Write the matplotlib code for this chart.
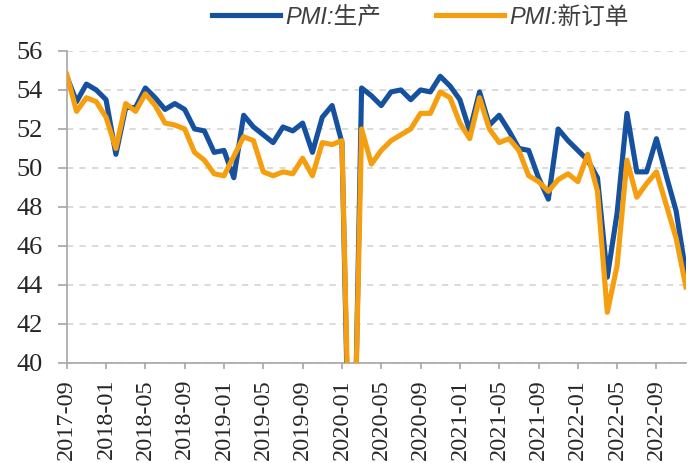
import matplotlib
matplotlib.use("Agg")
import matplotlib.pyplot as plt
import numpy as np

months = ["2017-09", "2017-10", "2017-11", "2017-12",
          "2018-01", "2018-02", "2018-03", "2018-04", "2018-05", "2018-06",
          "2018-07", "2018-08", "2018-09", "2018-10", "2018-11", "2018-12",
          "2019-01", "2019-02", "2019-03", "2019-04", "2019-05", "2019-06",
          "2019-07", "2019-08", "2019-09", "2019-10", "2019-11", "2019-12",
          "2020-01", "2020-02", "2020-03", "2020-04", "2020-05", "2020-06",
          "2020-07", "2020-08", "2020-09", "2020-10", "2020-11", "2020-12",
          "2021-01", "2021-02", "2021-03", "2021-04", "2021-05", "2021-06",
          "2021-07", "2021-08", "2021-09", "2021-10", "2021-11", "2021-12",
          "2022-01", "2022-02", "2022-03", "2022-04", "2022-05", "2022-06",
          "2022-07", "2022-08", "2022-09", "2022-10", "2022-11", "2022-12"]

production = [54.7, 53.4, 54.3, 54.0,
              53.5, 50.7, 53.1, 53.1, 54.1, 53.6, 53.0, 53.3, 53.0, 52.0, 51.9, 50.8,
              50.9, 49.5, 52.7, 52.1, 51.7, 51.3, 52.1, 51.9, 52.3, 50.8, 52.6, 53.2,
              51.3, 27.8, 54.1, 53.7, 53.2, 53.9, 54.0, 53.5, 54.0, 53.9, 54.7, 54.2,
              53.5, 51.9, 53.9, 52.2, 52.7, 51.9, 51.0, 50.9, 49.5, 48.4, 52.0, 51.4,
              50.9, 50.4, 49.5, 44.4, 47.7, 52.8, 49.8, 49.8, 51.5, 49.6, 47.8, 44.6]

new_orders = [54.8, 52.9, 53.6, 53.4,
              52.6, 51.0, 53.3, 52.9, 53.8, 53.2, 52.3, 52.2, 52.0, 50.8, 50.4, 49.7,
              49.6, 50.6, 51.6, 51.4, 49.8, 49.6, 49.8, 49.7, 50.5, 49.6, 51.3, 51.2,
              51.4, 29.3, 52.0, 50.2, 50.9, 51.4, 51.7, 52.0, 52.8, 52.8, 53.9, 53.6,
              52.3, 51.5, 53.6, 52.0, 51.3, 51.5, 50.9, 49.6, 49.3, 48.8, 49.4, 49.7,
              49.3, 50.7, 48.8, 42.6, 45.0, 50.4, 48.5, 49.2, 49.8, 48.1, 46.4, 43.9]

series_labels = ["PMI:生产", "PMI:新订单"]
yticks = [40, 42, 44, 46, 48, 50, 52, 54, 56]
tick_step = 4

plt.rcParams["lines.scale_dashes"] = False

fig = plt.figure(figsize=(6.88, 4.63), dpi=100)
ax = fig.add_axes([0.097, 0.216, 0.900, 0.674])

x = np.arange(len(months))
blue = "#15519e"
orange = "#f59e0f"
ax.plot(x, production, color=blue, lw=3.7, solid_joinstyle="round", label=series_labels[0], zorder=3)
ax.plot(x, new_orders, color=orange, lw=3.7, solid_joinstyle="round", label=series_labels[1], zorder=4)

ax.set_xlim(0, len(months) - 1)
ax.set_ylim(40, 56)
ax.set_yticks(yticks)
ax.set_xticks(x[::tick_step])
ax.set_xticklabels(months[::tick_step], rotation=90)

serif = "Liberation Serif"
for lab in ax.get_yticklabels():
    lab.set_fontfamily(serif)
    lab.set_fontsize(19)
    lab.set_color("#262626")
for lab in ax.get_xticklabels():
    lab.set_fontfamily(serif)
    lab.set_fontsize(17.5)
    lab.set_color("#262626")

for s in ["top", "right"]:
    ax.spines[s].set_visible(False)
for s in ["left", "bottom"]:
    ax.spines[s].set_color("#a6a6a6")
    ax.spines[s].set_linewidth(1.2)

ax.tick_params(axis="y", length=6.5, width=1.2, color="#a6a6a6", pad=11)
ax.tick_params(axis="x", length=4.5, width=1.2, color="#a6a6a6", pad=7)

ax.yaxis.grid(True, color="#d4d4d4", lw=1.2, dashes=(4.5, 4.5))
ax.set_axisbelow(True)

leg = fig.legend(loc="center left", bbox_to_anchor=(212 / 688, 0.963), ncol=2, frameon=False,
                 borderpad=0, borderaxespad=0,
                 handlelength=2.9, handletextpad=0.22, columnspacing=2.3,
                 prop={"family": ["Liberation Sans", "Noto Sans CJK SC"], "style": "italic", "size": 17})
for t in leg.get_texts():
    t.set_color("#404040")
for h in leg.get_lines():
    h.set_linewidth(3.7)

fig.savefig("out.png", dpi=100)
